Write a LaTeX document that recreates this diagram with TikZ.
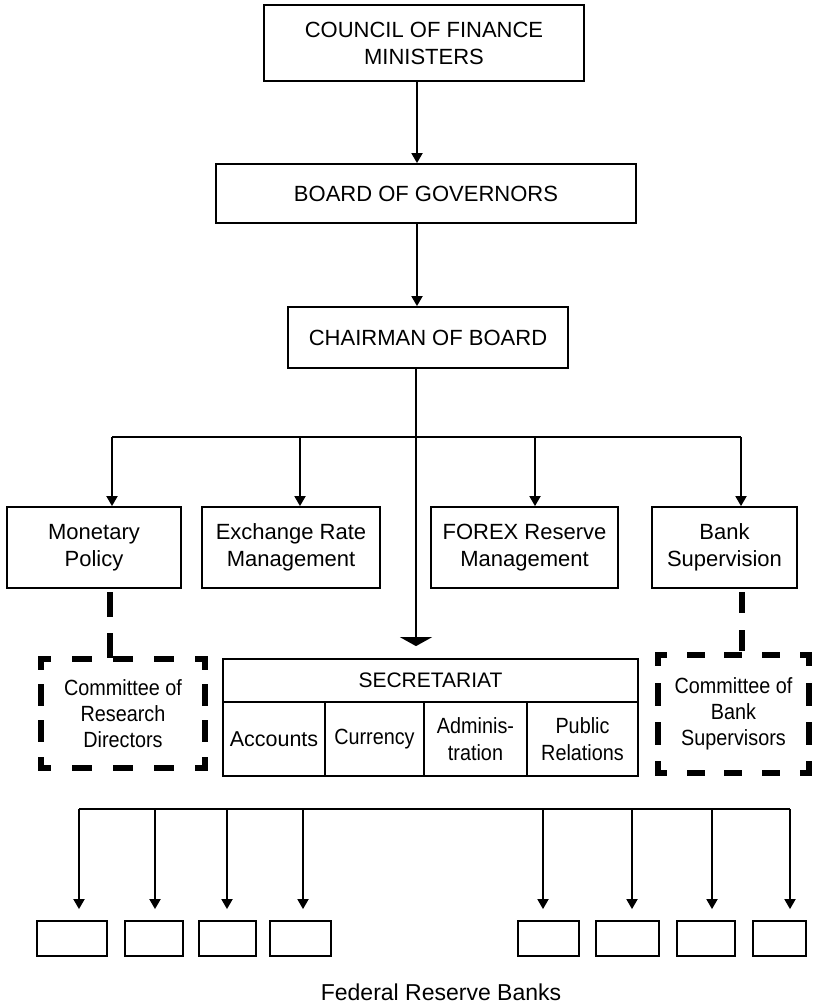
\documentclass[tikz,border=0pt]{standalone}
\usepackage{fontspec}
\setmainfont{Liberation Sans}
\newfontfamily\condfont[FakeStretch=0.9]{Liberation Sans}
\usetikzlibrary{arrows.meta}
\begin{document}
\begin{tikzpicture}[x=1pt,y=-1pt,
  box/.style={draw, line width=1.8pt, inner sep=0pt, align=center, font=\fontsize{22}{27}\selectfont},
  cbox/.style={box, font=\condfont\fontsize{22}{27}\selectfont},
  blank/.style={draw, line width=1.8pt, inner sep=0pt, minimum height=35pt},
  comm/.style={inner sep=0pt, align=center, font=\condfont\fontsize{22}{26}\selectfont},
  ln/.style={line width=1.8pt},
  arr/.style={line width=1.8pt, -{Triangle[width=11pt,length=10pt]}},
  bigarr/.style={line width=1.8pt, -{Triangle[width=32pt,length=9pt]}},
  dsh/.style={line width=6.5pt, line cap=rect},
  dconn/.style={line width=6.5pt, line cap=butt},
]
\useasboundingbox (0,0) rectangle (813,1005);

% top chain
\node[box, minimum width=320pt, minimum height=76pt] (council) at (424,43) {COUNCIL OF FINANCE\\MINISTERS};
\node[box, minimum width=420pt, minimum height=59pt] (board) at (426,193.5) {BOARD OF GOVERNORS};
\node[box, minimum width=280pt, minimum height=61pt] (chair) at (428,337.5) {CHAIRMAN OF BOARD};

% four departments
\node[box, minimum width=174pt, minimum height=81pt] (mon) at (94,547.5) {Monetary\\Policy};
\node[box, minimum width=178pt, minimum height=81pt] (exch) at (291,547.5) {Exchange Rate\\Management};
\node[box, minimum width=187pt, minimum height=81pt] (forex) at (524.5,547.5) {FOREX Reserve\\Management};
\node[box, minimum width=145pt, minimum height=81pt] (bank) at (724.5,547.5) {Bank\\Supervision};

% secretariat
\node[box, minimum width=415pt, minimum height=43pt, font=\fontsize{21}{26}\selectfont] (sechead) at (430.5,680.5) {SECRETARIAT};
\node[box, minimum width=102pt, minimum height=74pt, font=\fontsize{21.5}{26}\selectfont] (acc) at (274,739) {Accounts};
\node[cbox, minimum width=99pt, minimum height=74pt] (cur) at (374.5,739) {Currency};
\node[cbox, minimum width=103pt, minimum height=74pt] (adm) at (475.5,739) {Adminis-\\tration};
\node[cbox, minimum width=111pt, minimum height=74pt] (pub) at (582.5,739) {Public\\Relations};

% committees (dashed)
\node[comm, minimum width=164pt, minimum height=109pt] (crd) at (123,713.5) {Committee of\\Research\\Directors};
\node[comm, minimum width=151pt, minimum height=118pt] (cbs) at (733.5,714) {Committee of\\Bank\\Supervisors};

\draw[dsh, dash pattern=on 13pt off 28pt, dash phase=6.5pt] (crd.north west) -- (crd.north east);
\draw[dsh, dash pattern=on 13pt off 28pt, dash phase=6.5pt] (crd.south west) -- (crd.south east);
\draw[dsh, dash pattern=on 15.5pt off 20.83pt, dash phase=7.75pt] (crd.north west) -- (crd.south west);
\draw[dsh, dash pattern=on 15.5pt off 20.83pt, dash phase=7.75pt] (crd.north east) -- (crd.south east);

\draw[dsh, dash pattern=on 11.5pt off 26.25pt, dash phase=5.75pt] (cbs.north west) -- (cbs.north east);
\draw[dsh, dash pattern=on 11.5pt off 26.25pt, dash phase=5.75pt] (cbs.south west) -- (cbs.south east);
\draw[dsh, dash pattern=on 16.5pt off 22.83pt, dash phase=8.25pt] (cbs.north west) -- (cbs.south west);
\draw[dsh, dash pattern=on 16.5pt off 22.83pt, dash phase=8.25pt] (cbs.north east) -- (cbs.south east);

\coordinate (mc) at (110,592);
\coordinate (bc) at (742,592);
\draw[dconn, dash pattern=on 25pt off 16pt] (mc) -- (mc |- crd.north);
\draw[dconn, dash pattern=on 21pt off 17pt] (bc) -- (bc |- cbs.north);

% vertical chain arrows
\coordinate (vx) at (417,0);
\coordinate (mx) at (416,0);
\draw[arr] (council.south -| vx) -- (board.north -| vx);
\draw[arr] (board.south -| vx) -- (chair.north -| vx);
\draw[bigarr, shorten >=12pt] (chair.south -| mx) -- (mx |- sechead.north);

% branch to departments
\coordinate (h1) at (112,437);
\coordinate (h2) at (300,437);
\coordinate (h3) at (535,437);
\coordinate (h4) at (741,437);
\draw[ln] (h1) -- (h4);
\draw[arr] (h1) -- (h1 |- mon.north);
\draw[arr] (h2) -- (h2 |- exch.north);
\draw[arr] (h3) -- (h3 |- forex.north);
\draw[arr] (h4) -- (h4 |- bank.north);

% federal reserve banks
\node[blank, minimum width=70pt] (f1) at (72,938.5) {};
\node[blank, minimum width=58pt] (f2) at (154,938.5) {};
\node[blank, minimum width=57pt] (f3) at (227.5,938.5) {};
\node[blank, minimum width=61pt] (f4) at (300.5,938.5) {};
\node[blank, minimum width=61pt] (f5) at (548.5,938.5) {};
\node[blank, minimum width=63pt] (f6) at (627.5,938.5) {};
\node[blank, minimum width=58pt] (f7) at (706,938.5) {};
\node[blank, minimum width=53pt] (f8) at (779.5,938.5) {};

\coordinate (b1) at (79,809);
\coordinate (b2) at (155,809);
\coordinate (b3) at (227,809);
\coordinate (b4) at (303,809);
\coordinate (b5) at (543,809);
\coordinate (b6) at (632,809);
\coordinate (b7) at (712,809);
\coordinate (b8) at (790,809);
\draw[ln] (b1) -- (b8);
\foreach \i in {1,...,8}{
  \draw[arr, shorten >=11pt] (b\i) -- (b\i |- f\i.north);
}

\node[font=\fontsize{23}{27}\selectfont, anchor=base, inner sep=0pt] (frb) at (441,1000) {Federal Reserve Banks};
\end{tikzpicture}
\end{document}
